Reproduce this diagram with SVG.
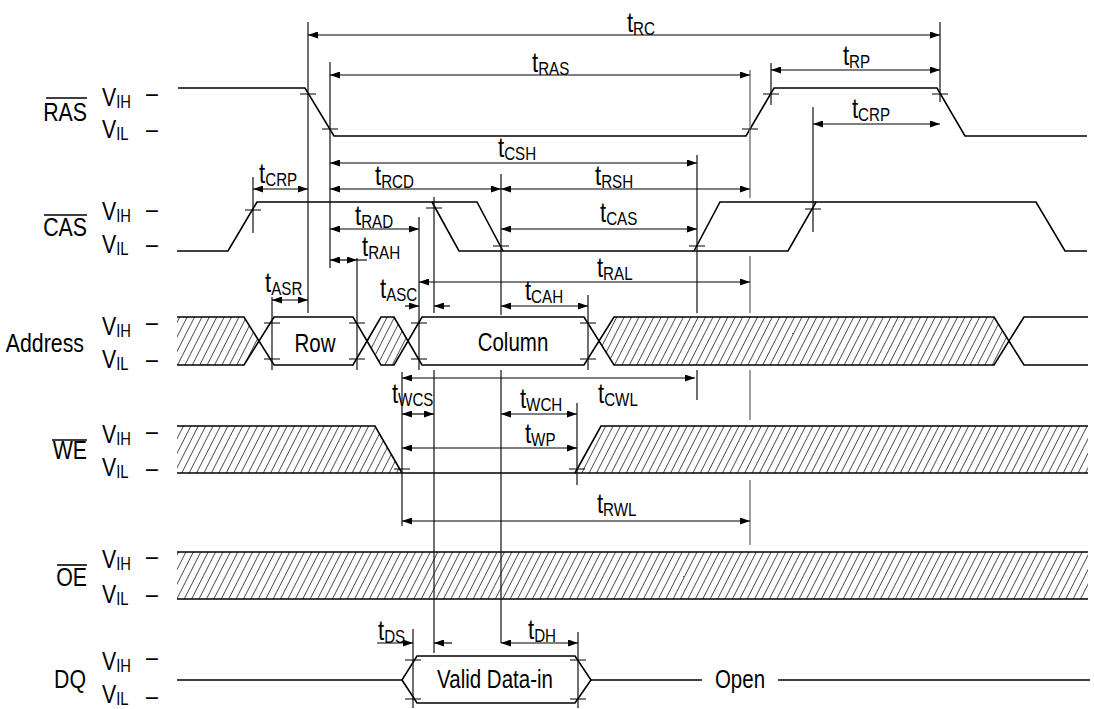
<svg xmlns="http://www.w3.org/2000/svg" width="1094" height="709" viewBox="0 0 1094 709">
<style>
text{font-family:"Liberation Sans Narrow","Liberation Sans",Arial,sans-serif;fill:#000}
.t{font-size:27px}
.s{font-size:18.5px}
.v{font-size:26px}
.vs{font-size:18px}
.nm{font-size:26px;text-anchor:end}
.ctr{font-size:25px;text-anchor:middle}
.sig{fill:none;stroke:#000;stroke-width:1.6}
.hat{fill:url(#hatch);stroke:none}
.ext{stroke:#111;stroke-width:1.2;fill:none}
.ext2{stroke:#808080;stroke-width:1.5;fill:none}
.dim{stroke:#000;stroke-width:1.2;fill:none;marker-start:url(#ah);marker-end:url(#ah)}
.one{stroke:#000;stroke-width:1.2;fill:none;marker-end:url(#ah)}
.tick{stroke:#000;stroke-width:1.2;fill:none}
.ov{stroke:#000;stroke-width:1.6}
</style>
<defs>
<marker id="ah" viewBox="0 0 10 7" refX="10" refY="3.5" markerWidth="11" markerHeight="7" markerUnits="userSpaceOnUse" orient="auto-start-reverse"><path d="M0,0L10,3.5L0,7z" fill="#000"/></marker>
<pattern id="hatch" patternUnits="userSpaceOnUse" width="6.6" height="10" patternTransform="rotate(27)"><line x1="0" y1="-1" x2="0" y2="11" stroke="#000" stroke-width="1.3"/></pattern>
</defs>
<rect width="1094" height="709" fill="#fff"/>

<g id="RAS">
<line class="ov" x1="46" y1="98" x2="87" y2="98"/>
<path class="sig" d="M178,88H305L334,136H746L774,88H937L965,136H1087"/>
<g transform="scale(0.82,1)">
<text class="nm" x="106.1" y="121">RAS</text>
<text class="v" x="124.4" y="106">V<tspan class="vs" dy="2">IH</tspan></text>
<text class="v" x="124.4" y="138">V<tspan class="vs" dy="2">IL</tspan></text>
<text class="v" x="178" y="102">–</text>
<text class="v" x="178" y="138">–</text>
</g>
</g>

<g id="CAS">
<line class="ov" x1="44" y1="215" x2="87" y2="215"/>
<path class="sig" d="M177,251H228L257,202H477L503,251"/>
<path class="sig" d="M432,202L459,251H788L816,202H1036L1065,251H1087"/>
<path class="sig" d="M694,251L720,202H816"/>
<g transform="scale(0.82,1)">
<text class="nm" x="106.1" y="236">CAS</text>
<text class="v" x="124.4" y="220">V<tspan class="vs" dy="2">IH</tspan></text>
<text class="v" x="124.4" y="253">V<tspan class="vs" dy="2">IL</tspan></text>
<text class="v" x="178" y="218">–</text>
<text class="v" x="178" y="253">–</text>
</g>
</g>

<g id="Address">
<path class="hat" d="M177,317H244L259,341L244,365H177Z"/>
<path class="hat" d="M367,341L381,317H394L408,341L394,365H381Z"/>
<path class="hat" d="M599,341L614,317H994L1009,341L994,365H614Z"/>
<path class="sig" d="M177,317H244L274,365H353L381,317H394L422,365H584L614,317H994L1024,365H1088"/>
<path class="sig" d="M177,365H244L274,317H353L381,365H394L422,317H584L614,365H994L1024,317H1088"/>
<g transform="scale(0.82,1)">
<text class="nm" x="102.4" y="352">Address</text>
<text class="v" x="124.4" y="335">V<tspan class="vs" dy="2">IH</tspan></text>
<text class="v" x="124.4" y="368">V<tspan class="vs" dy="2">IL</tspan></text>
<text class="v" x="178" y="331">–</text>
<text class="v" x="178" y="368">–</text>
<text class="ctr" x="384.1" y="352">Row</text>
<text class="ctr" x="625.6" y="351">Column</text>
</g>
</g>

<g id="WE">
<line class="ov" x1="52" y1="440" x2="87" y2="440"/>
<path class="hat" d="M177,426H375L402,473H177Z"/>
<path class="hat" d="M575,473L601,426H1088V473Z"/>
<path class="sig" d="M177,426H375L402,473"/>
<path class="sig" d="M177,473H1088"/>
<path class="sig" d="M575,473L601,426H1088"/>
<g transform="scale(0.82,1)">
<text class="nm" x="106.1" y="459">WE</text>
<text class="v" x="124.4" y="443">V<tspan class="vs" dy="2">IH</tspan></text>
<text class="v" x="124.4" y="476">V<tspan class="vs" dy="2">IL</tspan></text>
<text class="v" x="178" y="440">–</text>
<text class="v" x="178" y="477">–</text>
</g>
</g>

<g id="OE">
<line class="ov" x1="57" y1="565" x2="87" y2="565"/>
<rect class="hat" x="177" y="552" width="911" height="47"/>
<path class="sig" d="M177,552H1088M177,599H1088"/>
<g transform="scale(0.82,1)">
<text class="nm" x="106.1" y="586">OE</text>
<text class="v" x="124.4" y="568">V<tspan class="vs" dy="2">IH</tspan></text>
<text class="v" x="124.4" y="603">V<tspan class="vs" dy="2">IL</tspan></text>
<text class="v" x="178" y="565">–</text>
<text class="v" x="178" y="603">–</text>
</g>
</g>

<g id="DQ">
<path class="sig" d="M177,680H402L417,656H575L591,680L575,703H417L402,680"/>
<path class="sig" d="M591,680H702M778,680H1090"/>
<g transform="scale(0.82,1)">
<text class="nm" x="104.9" y="688">DQ</text>
<text class="v" x="124.4" y="670">V<tspan class="vs" dy="2">IH</tspan></text>
<text class="v" x="124.4" y="703">V<tspan class="vs" dy="2">IL</tspan></text>
<text class="v" x="178" y="666">–</text>
<text class="v" x="178" y="705">–</text>
<text class="ctr" x="603.7" y="688">Valid Data-in</text>
<text class="ctr" x="902.4" y="688">Open</text>
</g>
</g>

<g id="connectors">
<path class="ext" d="M308,22V313M330,62V268M940,22V102M771,63V105M813,107V232M253,177V233M697,155V313M697,370V400M501,174V315M501,370V643M434,197V313M434,370V653M419,217V370M357,258V370M272,297V370M588,295V370M402,372V526M577,403V485M413,629V708M578,632V708"/>
<path class="ext2" d="M750,70V198M750,256V313M750,370V420M750,480V545"/>
<path class="tick" d="M300,94h16M322,129h16M742,129h16M763,94h16M932,94h16M245,210h16M426,208h16M493,246h16M689,246h16M805,209h16M264,323h16M264,359h16M349,323h16M349,359h16M411,323h16M411,359h16M580,323h16M580,359h16M394,469h16M569,469h16M405,660h16M405,699h16M570,660h16M570,699h16"/>
<path class="dim" d="M308,35H940"/>
<path class="dim" d="M330,75H750"/>
<path class="dim" d="M771,70H940"/>
<path class="dim" d="M813,124H940"/>
<path class="dim" d="M330,163H697"/>
<path class="dim" d="M253,189H308"/>
<path class="dim" d="M330,189H501"/>
<path class="dim" d="M501,189H750"/>
<path class="dim" d="M330,229H419"/>
<path class="dim" d="M501,229H697"/>
<path class="dim" d="M330,260H357"/>
<path class="ext" d="M357,260H367"/>
<path class="dim" d="M419,282H750"/>
<path class="dim" d="M272,300H308"/>
<path class="one" d="M405,306H419"/>
<path class="one" d="M450,306H434"/>
<path class="dim" d="M501,306H588"/>
<path class="dim" d="M402,378H695"/>
<path class="dim" d="M402,414H434"/>
<path class="dim" d="M501,414H577"/>
<path class="dim" d="M402,448H577"/>
<path class="dim" d="M402,521H750"/>
<path class="one" d="M377,643H413"/>
<path class="one" d="M452,643H434"/>
<path class="dim" d="M501,643H578"/>
</g>

<g id="timing-labels" transform="scale(0.82,1)">
<text class="t" x="764.6" y="32">t<tspan class="s" dy="3">RC</tspan></text>
<text class="t" x="648.8" y="72">t<tspan class="s" dy="3">RAS</tspan></text>
<text class="t" x="1028" y="65">t<tspan class="s" dy="3">RP</tspan></text>
<text class="t" x="1039" y="118">t<tspan class="s" dy="3">CRP</tspan></text>
<text class="t" x="607.3" y="157">t<tspan class="s" dy="3">CSH</tspan></text>
<text class="t" x="315.9" y="183">t<tspan class="s" dy="3">CRP</tspan></text>
<text class="t" x="457.3" y="185">t<tspan class="s" dy="3">RCD</tspan></text>
<text class="t" x="725.6" y="185">t<tspan class="s" dy="3">RSH</tspan></text>
<text class="t" x="432.9" y="225">t<tspan class="s" dy="3">RAD</tspan></text>
<text class="t" x="731.7" y="222">t<tspan class="s" dy="3">CAS</tspan></text>
<text class="t" x="441.5" y="256">t<tspan class="s" dy="3">RAH</tspan></text>
<text class="t" x="728" y="277">t<tspan class="s" dy="3">RAL</tspan></text>
<text class="t" x="463.4" y="298">t<tspan class="s" dy="3">ASC</tspan></text>
<text class="t" x="323.2" y="292">t<tspan class="s" dy="3">ASR</tspan></text>
<text class="t" x="640.2" y="300">t<tspan class="s" dy="3">CAH</tspan></text>
<text class="t" x="729.3" y="403">t<tspan class="s" dy="3">CWL</tspan></text>
<text class="t" x="478" y="403">t<tspan class="s" dy="3">WCS</tspan></text>
<text class="t" x="634.1" y="408">t<tspan class="s" dy="3">WCH</tspan></text>
<text class="t" x="640.2" y="443">t<tspan class="s" dy="3">WP</tspan></text>
<text class="t" x="728" y="513">t<tspan class="s" dy="3">RWL</tspan></text>
<text class="t" x="461" y="640">t<tspan class="s" dy="3">DS</tspan></text>
<text class="t" x="643.9" y="639">t<tspan class="s" dy="3">DH</tspan></text>
</g>
</svg>
